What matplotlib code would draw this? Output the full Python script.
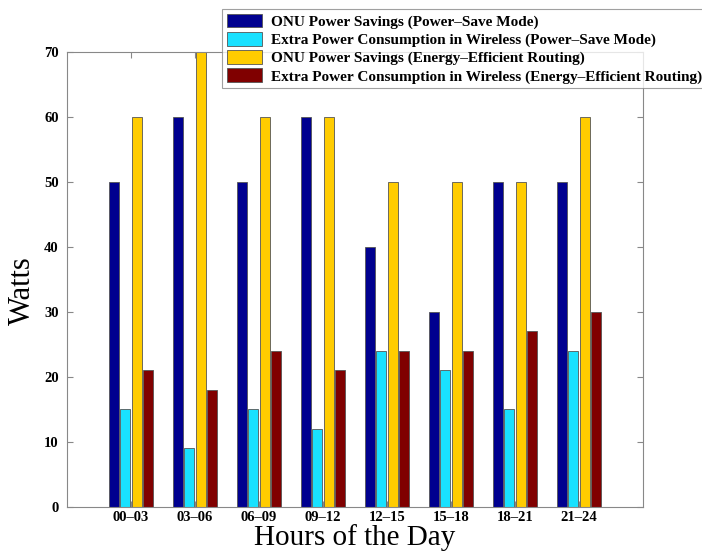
import numpy as np
import matplotlib
matplotlib.use('Agg')
import matplotlib.pyplot as plt

# data
hours = ['00\u201303', '03\u201306', '06\u201309', '09\u201312', '12\u201315', '15\u201318', '18\u201321', '21\u201324']
onu_psm = [50, 60, 50, 60, 40, 30, 50, 50]
wireless_psm = [15, 9, 15, 12, 24, 21, 15, 24]
onu_eer = [60, 70, 60, 60, 50, 50, 50, 60]
wireless_eer = [21, 18, 24, 21, 24, 24, 27, 30]

labels = ['ONU Power Savings (Power\u2013Save Mode)',
          'Extra Power Consumption in Wireless (Power\u2013Save Mode)',
          'ONU Power Savings (Energy\u2013Efficient Routing)',
          'Extra Power Consumption in Wireless (Energy\u2013Efficient Routing)']
colors = ['#00008F', '#19E1FF', '#FFCC00', '#800000']

plt.rcParams['font.family'] = ['Liberation Serif', 'DejaVu Serif']

fig = plt.figure(figsize=(7.02, 5.57), dpi=100)
ax = fig.add_axes([0.0954, 0.0898, 0.8206, 0.8168])

x = np.arange(1, len(hours) + 1)
w = 0.16
step = 0.178
series = [onu_psm, wireless_psm, onu_eer, wireless_eer]
bars = []
for i, (vals, c) in enumerate(zip(series, colors)):
    b = ax.bar(x + (i - 1.5) * step, vals, width=w, color=c,
               edgecolor='#555555', linewidth=0.6, label=labels[i])
    bars.append(b)

ax.set_xlim(0, 9)
ax.set_ylim(0, 70)
ax.set_xticks(x)
ax.set_xticklabels(hours, fontweight='bold', fontsize=10.5)
ax.set_yticks(np.arange(0, 71, 10))
ax.set_yticklabels([str(v) for v in range(0, 71, 10)], fontweight='bold', fontsize=10.5)
ax.tick_params(direction='in', top=True, right=True, length=4, color='#888888')
ax.tick_params(axis='x', pad=3)
ax.tick_params(axis='y', pad=6)
for s in ax.spines.values():
    s.set_color('#888888')

ax.set_ylabel('Watts', fontsize=22)
ax.yaxis.set_label_coords(-0.052, 0.475)
ax.set_xlabel('Hours of the Day', fontsize=21)
ax.xaxis.set_label_coords(0.5, -0.0385)

leg = fig.legend(handles=bars, labels=labels, loc='upper left',
                 bbox_to_anchor=(222 / 702, 1 - 9 / 557),
                 prop={'weight': 'bold', 'size': 11},
                 frameon=True, fancybox=False, edgecolor='#888888',
                 handlelength=2.3, handleheight=1.0, handletextpad=0.6,
                 labelspacing=0.2, borderpad=0.3, borderaxespad=0)
leg.get_frame().set_linewidth(0.8)

fig.savefig('out.png', dpi=100)
